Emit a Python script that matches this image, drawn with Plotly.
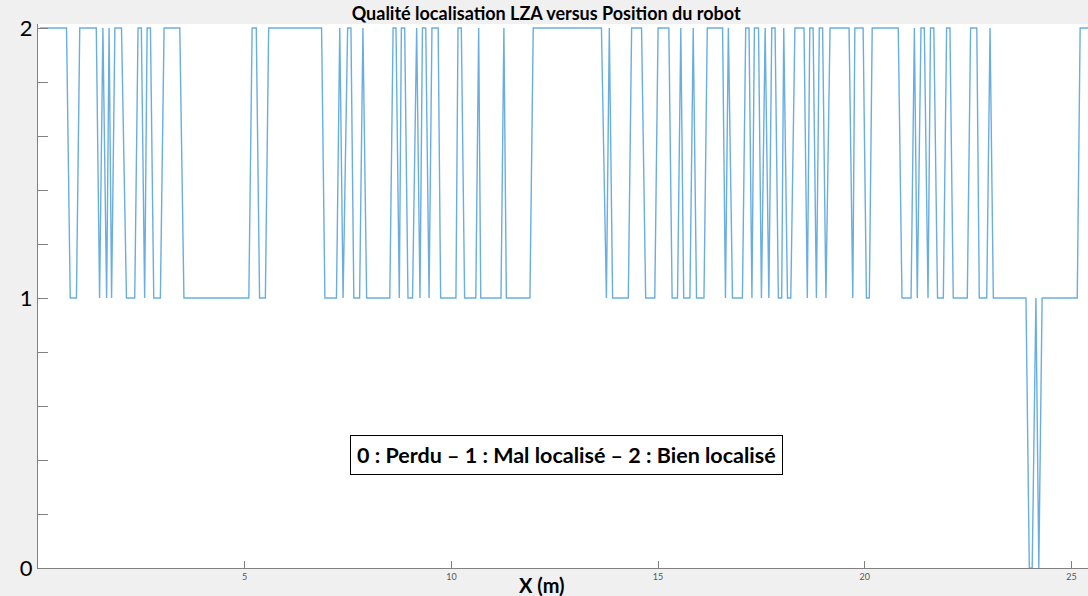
import plotly.graph_objects as go

# position du robot (m) et qualite de localisation (0 perdu, 1 mal, 2 bien)
x_pos = [0.04, 0.69, 0.78, 0.93, 1.01, 1.41, 1.49, 1.57, 1.66, 1.72, 1.78, 1.86,
         2.02, 2.14, 2.34, 2.42, 2.50, 2.58, 2.64, 2.72, 2.80, 2.96, 3.05, 3.43,
         3.53, 5.10, 5.18, 5.28, 5.36, 5.50, 5.58, 6.86, 6.94, 7.22, 7.30, 7.38,
         7.49, 7.57, 7.64, 7.78, 7.86, 7.95, 8.51, 8.59, 8.66, 8.74, 8.79, 8.87,
         8.95, 9.06, 9.16, 9.24, 9.30, 9.38, 9.46, 9.53, 9.68, 9.74, 10.11, 10.16,
         10.24, 10.32, 10.59, 10.66, 10.71, 11.20, 11.27, 11.33, 11.90, 11.98,
         13.63, 13.75, 13.82, 13.90, 14.28, 14.36, 14.60, 14.70, 14.92, 15.00,
         15.26, 15.34, 15.47, 15.55, 15.62, 15.77, 15.85, 15.93, 16.11, 16.19,
         16.56, 16.63, 16.70, 16.80, 17.04, 17.12, 17.20, 17.27, 17.33, 17.43,
         17.50, 17.59, 17.68, 17.75, 17.83, 17.91, 17.99, 18.04, 18.13, 18.21,
         18.31, 18.53, 18.61, 18.67, 18.75, 18.83, 18.90, 18.98, 19.06, 19.16,
         19.62, 19.71, 19.76, 19.96, 20.04, 20.11, 20.18, 20.81, 20.90, 21.12,
         21.20, 21.27, 21.36, 21.44, 21.53, 21.59, 21.67, 21.76, 21.90, 21.98,
         22.06, 22.14, 22.48, 22.56, 22.71, 22.77, 22.95, 23.03, 23.11, 23.90,
         23.98, 24.05, 24.14, 24.21, 24.29, 25.14, 25.21, 25.40]
qualite = [2, 2, 1, 1, 2, 2, 1, 2, 1, 2, 1, 2,
           2, 1, 1, 2, 2, 1, 2, 2, 1, 1, 2, 2,
           1, 1, 2, 2, 1, 1, 2, 2, 1, 1, 2, 1,
           2, 2, 1, 1, 2, 1, 1, 2, 2, 1, 2, 2,
           1, 1, 2, 1, 2, 2, 1, 2, 2, 1, 1, 2,
           2, 1, 1, 2, 1, 1, 2, 1, 1, 2,
           2, 1, 2, 1, 1, 2, 2, 1, 1, 2,
           2, 1, 1, 2, 1, 1, 2, 1, 1, 2,
           2, 1, 2, 1, 1, 2, 2, 1, 2, 2,
           1, 2, 1, 2, 2, 1, 1, 2, 1, 1,
           2, 2, 1, 2, 2, 1, 2, 2, 1, 2,
           2, 1, 2, 2, 1, 1, 2, 2, 1, 1,
           2, 1, 2, 2, 1, 2, 2, 1, 1, 2,
           2, 1, 1, 2, 2, 1, 1, 2, 1, 1,
           0, 0, 1, 0, 1, 1, 2, 2]

x_ticks = [5, 10, 15, 20, 25]
y_ticks = [0, 1, 2]
legende = "0 : Perdu \u2013 1 : Mal localisé \u2013 2 : Bien localisé"

fig = go.Figure(go.Scatter(x=x_pos, y=qualite, mode="lines",
                           line=dict(color="#6aaee0", width=1.4),
                           hoverinfo="skip", cliponaxis=False))

fig.update_layout(
    width=1088, height=596,
    margin=dict(l=38, r=0, t=24, b=28, autoexpand=False),
    paper_bgcolor="#f0f0f0", plot_bgcolor="white",
    showlegend=False,
    font=dict(family="Lato, Open Sans, sans-serif", color="black"),
    title=dict(text="<b>Qualité localisation LZA versus Position du robot</b>",
               x=0.502, xanchor="center", y=0.977, yanchor="middle",
               font=dict(size=18, color="black")),
)
fig.update_xaxes(range=[0, 25.4], tickvals=x_ticks, ticks="inside", ticklen=7,
                 tickcolor="#808080", showline=True, linecolor="#808080",
                 showgrid=False, zeroline=False, automargin=False,
                 tickfont=dict(size=9, color="#555555"))
fig.update_yaxes(range=[0, 2.015], tickvals=y_ticks, ticks="inside", ticklen=10,
                 tickcolor="#808080", showline=True, linecolor="#808080",
                 showgrid=False, zeroline=False, automargin=False,
                 tickfont=dict(size=22, color="black"),
                 minor=dict(dtick=0.2, tick0=0, ticks="inside", ticklen=10,
                            tickcolor="#808080", showgrid=False))

# x title placed below the axis (pixel position converted to paper coords)
fig.add_annotation(x=(542 - 38) / (1088 - 38), xref="paper",
                   y=(596 - 28 - 585) / (596 - 24 - 28), yref="paper",
                   yanchor="middle", text="<b>X (m)</b>", showarrow=False,
                   font=dict(size=20, color="black"))

fig.add_annotation(x=12.79, y=0.419, text="<b>" + legende + "</b>", showarrow=False,
                   font=dict(size=21.5, color="black"), bgcolor="white",
                   bordercolor="black", borderwidth=1, borderpad=6)

fig.write_html("out.html", config={"displayModeBar": False},
               post_script="document.body.style.margin='0';")
